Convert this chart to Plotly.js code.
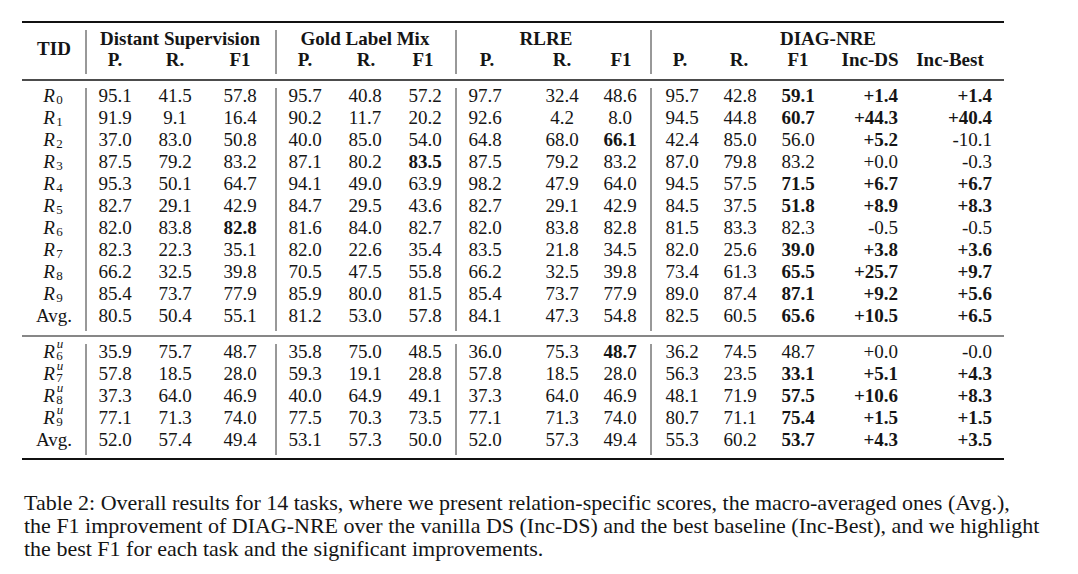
<!DOCTYPE html>
<html><head><meta charset="utf-8">
<script src="https://cdn.plot.ly/plotly-3.0.1.min.js"></script>
<style>
#chart text, #chart tspan { font-family: "Liberation Serif", "Times New Roman", Times, serif !important; }
</style>
</head><body style="margin:0"><div id="chart"></div>
<script>
// ---- data ----
const tidBase = ['R','R','R','R','R','R','R','R','R','R','Avg.','R','R','R','R','Avg.'];
const tidSub  = ['0','1','2','3','4','5','6','7','8','9','','6','7','8','9',''];
const tidSup  = ['','','','','','','','','','','','u','u','u','u',''];
const dsP   = [95.1,91.9,37.0,87.5,95.3,82.7,82.0,82.3,66.2,85.4,80.5, 35.9,57.8,37.3,77.1,52.0];
const dsR   = [41.5,9.1,83.0,79.2,50.1,29.1,83.8,22.3,32.5,73.7,50.4, 75.7,18.5,64.0,71.3,57.4];
const dsF1  = [57.8,16.4,50.8,83.2,64.7,42.9,82.8,35.1,39.8,77.9,55.1, 48.7,28.0,46.9,74.0,49.4];
const glmP  = [95.7,90.2,40.0,87.1,94.1,84.7,81.6,82.0,70.5,85.9,81.2, 35.8,59.3,40.0,77.5,53.1];
const glmR  = [40.8,11.7,85.0,80.2,49.0,29.5,84.0,22.6,47.5,80.0,53.0, 75.0,19.1,64.9,70.3,57.3];
const glmF1 = [57.2,20.2,54.0,83.5,63.9,43.6,82.7,35.4,55.8,81.5,57.8, 48.5,28.8,49.1,73.5,50.0];
const rlP   = [97.7,92.6,64.8,87.5,98.2,82.7,82.0,83.5,66.2,85.4,84.1, 36.0,57.8,37.3,77.1,52.0];
const rlR   = [32.4,4.2,68.0,79.2,47.9,29.1,83.8,21.8,32.5,73.7,47.3, 75.3,18.5,64.0,71.3,57.3];
const rlF1  = [48.6,8.0,66.1,83.2,64.0,42.9,82.8,34.5,39.8,77.9,54.8, 48.7,28.0,46.9,74.0,49.4];
const dgP   = [95.7,94.5,42.4,87.0,94.5,84.5,81.5,82.0,73.4,89.0,82.5, 36.2,56.3,48.1,80.7,55.3];
const dgR   = [42.8,44.8,85.0,79.8,57.5,37.5,83.3,25.6,61.3,87.4,60.5, 74.5,23.5,71.9,71.1,60.2];
const dgF1  = [59.1,60.7,56.0,83.2,71.5,51.8,82.3,39.0,65.5,87.1,65.6, 48.7,33.1,57.5,75.4,53.7];
const incDS   = ['+1.4','+44.3','+5.2','+0.0','+6.7','+8.9','-0.5','+3.8','+25.7','+9.2','+10.5', '+0.0','+5.1','+10.6','+1.5','+4.3'];
const incBest = ['+1.4','+40.4','-10.1','-0.3','+6.7','+8.3','-0.5','+3.6','+9.7','+5.6','+6.5', '-0.0','+4.3','+8.3','+1.5','+3.5'];
// highlighted (bold) row indices per column
const boldDsF1  = [6];
const boldGlmF1 = [3];
const boldRlF1  = [2,11];
const boldDgF1  = [0,1,4,5,7,8,9,10,12,13,14,15];
const boldIncDS = [0,1,2,4,5,7,8,9,10,12,13,14,15];
const boldIncBest = [0,1,4,5,7,8,9,10,12,13,14,15];
const groupHeaders = ['Distant Supervision','Gold Label Mix','RLRE','DIAG-NRE'];
const subHeaders = ['P.','R.','F1','P.','R.','F1','P.','R.','F1','P.','R.','F1','Inc-DS','Inc-Best'];
const captionLines = [
 'Table 2: Overall results for 14 tasks, where we present relation-specific scores, the macro-averaged ones (Avg.),',
 'the F1 improvement of DIAG-NRE over the vanilla DS (Inc-DS) and the best baseline (Inc-Best), and we highlight',
 'the best F1 for each task and the significant improvements.'
];

// ---- layout geometry ----
const FAM = 'Liberation Serif';
const FS = 19;
const INK = '#151515';
const rowY = i => i < 11 ? 97 + i*22 : 353 + (i-11)*22;
const ys = tidBase.map((_, i) => rowY(i));

const fmt = (vals, bold, isStr) => vals.map((v, i) => {
  const s = isStr ? v : v.toFixed(1);
  return (bold && bold.includes(i)) ? '<b>' + s + '</b>' : s;
});
const txt = (x, y, text, pos, size) => ({
  type: 'scatter', mode: 'text', x, y, text, textposition: pos, cliponaxis: false, hoverinfo: 'skip',
  textfont: {family: FAM, size: size || FS, color: INK}
});

const traces = [];
// task id column: italic R with separate subscript / superscript marks
traces.push(txt(ys.map((_, i) => tidSub[i] ? 49 : 54), ys,
  tidBase.map(b => b === 'R' ? '<i>R</i>' : b), 'middle center'));
const subIdx = tidSub.map((s, i) => s ? i : -1).filter(i => i >= 0);
traces.push(txt(subIdx.map(() => 59.5), subIdx.map(i => rowY(i) + 4), subIdx.map(i => tidSub[i]), 'middle center', 13));
const supIdx = tidSup.map((s, i) => s ? i : -1).filter(i => i >= 0);
traces.push(txt(supIdx.map(() => 60), supIdx.map(i => rowY(i) - 8), supIdx.map(i => '<i>' + tidSup[i] + '</i>'), 'middle center', 13));

const columns = [
  {x: 115, text: fmt(dsP), pos: 'middle center'},
  {x: 175, text: fmt(dsR), pos: 'middle center'},
  {x: 240, text: fmt(dsF1, boldDsF1), pos: 'middle center'},
  {x: 305, text: fmt(glmP), pos: 'middle center'},
  {x: 365, text: fmt(glmR), pos: 'middle center'},
  {x: 425, text: fmt(glmF1, boldGlmF1), pos: 'middle center'},
  {x: 485, text: fmt(rlP), pos: 'middle center'},
  {x: 562, text: fmt(rlR), pos: 'middle center'},
  {x: 620, text: fmt(rlF1, boldRlF1), pos: 'middle center'},
  {x: 682, text: fmt(dgP), pos: 'middle center'},
  {x: 740, text: fmt(dgR), pos: 'middle center'},
  {x: 798, text: fmt(dgF1, boldDgF1), pos: 'middle center'},
  {x: 898, text: fmt(incDS, boldIncDS, true), pos: 'middle left'},
  {x: 992, text: fmt(incBest, boldIncBest, true), pos: 'middle left'}
];
columns.forEach(c => traces.push(txt(ys.map(() => c.x), ys, c.text, c.pos)));

// header rows
const subX = [115,175,240,305,366,423,487,562,621,680,739,798,870,950];
traces.push(txt(subX, subX.map(() => 61), subHeaders.map(s => '<b>' + s + '</b>'), 'middle center'));
const grpX = [180,365,546,828];
traces.push(txt(grpX, grpX.map(() => 40), groupHeaders.map(s => '<b>' + s + '</b>'), 'middle center'));
traces.push(txt([54], [50], ['<b>TID</b>'], 'middle center'));

// rules
const hline = (y, w) => ({type:'line', xref:'x', yref:'y', x0:22, x1:1004, y0:y, y1:y, line:{color:'#111', width:w}});
const vline = (x, y0, y1) => ({type:'line', xref:'x', yref:'y', x0:x, x1:x, y0:y0, y1:y1, line:{color:'#333', width:1}});
const shapes = [hline(22,2), hline(80,1.5), hline(336,1.2), hline(459,2)];
[86,276,456,651].forEach(x => {
  shapes.push(vline(x,30,74));
  shapes.push(vline(x,88,331));
  shapes.push(vline(x,344,455));
});

const annotations = captionLines.map((t, i) => ({
  xref:'x', yref:'y', x:22, y:502 + i*23, text:t, showarrow:false, xanchor:'left', yanchor:'middle',
  font:{family:FAM, size:22, color:INK}
}));

const layout = {
  width:1078, height:574, margin:{l:0,r:0,t:0,b:0},
  xaxis:{range:[0,1078], visible:false},
  yaxis:{range:[574,0], visible:false},
  shapes, annotations, showlegend:false
};
Plotly.newPlot('chart', traces, layout, {displayModeBar:false});
</script>
</body></html>
